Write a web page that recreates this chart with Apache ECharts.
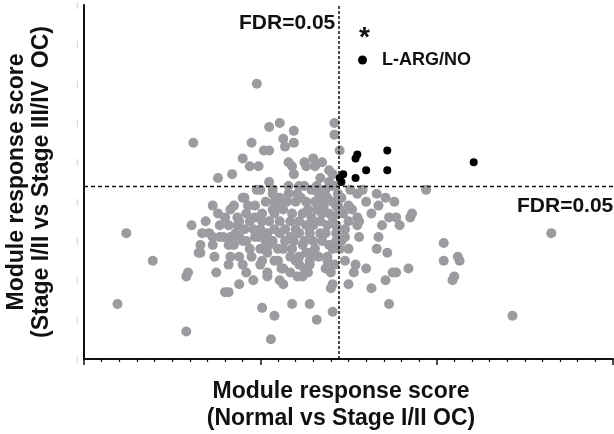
<!DOCTYPE html>
<html>
<head>
<meta charset="utf-8">
<script src="https://cdn.jsdelivr.net/npm/echarts@6/dist/echarts.min.js"></script>
<style>
  html, body { margin: 0; padding: 0; background: #fff; }
  #chart { width: 614px; height: 434px; }
</style>
</head>
<body>
<div id="chart"></div>
<script>
// axis ranges (arbitrary score units, ticks have no labels in the figure)
const xRange = [0, 300]
const yRange = [0, 90]
const yTicks = [0, 10, 20, 30, 40, 50, 60, 70, 80, 90]

// FDR = 0.05 cut-offs
const fdrX = 144.6
const fdrY = 44

// modules that pass both cut-offs (L-ARG/NO)
const sigPoints = [
  [147, 47], [145, 46], [146, 45], [154, 51], [155, 52],
  [160, 48], [172, 48], [172, 53], [154, 46], [221, 50]
]

// all other modules
const grayPoints = [
  [98, 70], [62, 55], [105, 59], [111, 60], [119, 58], [95, 55], [113, 56], [114, 54],
  [119, 55], [142, 60], [142, 57], [145, 53], [90, 51], [102, 53], [105, 53], [94, 49],
  [99, 49], [116, 50], [118, 49], [119, 47], [125, 50], [126, 49], [130, 51], [131, 49],
  [135, 50], [139, 48], [141, 47], [76, 46], [84, 47], [134, 46], [105, 45], [116, 44],
  [125, 44], [132, 44], [139, 45], [98, 43], [107, 43], [91, 41], [122, 44], [194, 43],
  [142, 44], [151, 43], [158, 43], [155, 42], [160, 40], [166, 42], [171, 41], [167, 39],
  [176, 40], [150, 39], [143, 39], [147, 37], [152, 38], [155, 36], [163, 37], [173, 36],
  [177, 36], [186, 37], [185, 36], [179, 34], [169, 34], [156, 35], [150, 35], [155, 34],
  [148, 33], [143, 34], [156, 31], [148, 31], [167, 31], [166, 28], [172, 27], [145, 28],
  [150, 28], [148, 25], [154, 24], [153, 22], [160, 23], [175, 22], [177, 22], [184, 23],
  [171, 20], [163, 18], [150, 19], [173, 14], [204, 29.5], [204, 25], [212, 26], [213, 25],
  [210, 21], [209, 20], [265, 32], [243, 11], [138, 25],
  [101, 13], [108, 11], [106, 5], [118, 14], [128, 14], [132, 10], [141, 12], [141, 19],
  [140, 18], [137, 23], [104, 22], [104, 21], [112, 23], [117, 22], [111, 20], [113, 19],
  [121, 21], [124, 21], [127, 22], [122, 24], [128, 24], [108, 25], [100, 24], [19, 14],
  [58, 7], [58, 21], [75, 22], [80, 17], [82, 17], [88, 19], [96, 20], [92, 22],
  [24, 32], [39, 25],
  [73, 39], [61, 34], [67, 32], [71, 32], [76, 37], [83, 38], [90, 41], [80, 36],
  [77, 34], [82, 34], [87, 36], [92, 37], [87, 34], [73, 31], [77, 31], [83, 31],
  [88, 31], [66, 29], [73, 29], [82, 29], [90, 30], [65, 27], [66, 27], [74, 26],
  [83, 26], [88, 26], [82, 24], [90, 24], [59, 22],
  [93, 39], [108, 40], [107, 38], [113, 38], [120, 40], [118, 37], [126, 40], [129, 36],
  [135, 40], [138, 41], [141, 40], [141, 36], [138, 34], [143, 34], [143, 30], [141, 28],
  [138, 26], [128, 25], [125, 23], [120, 25], [113, 23], [110, 25], [104, 27], [101, 25],
  [94, 28], [97, 31], [104, 32], [107, 30], [111, 32], [117, 31], [122, 32], [128, 32],
  [134, 32], [135, 30], [130, 30], [124, 29], [118, 28], [113, 28], [100, 33], [94, 35],
  [88, 35], [97, 36], [105, 35], [111, 35], [117, 35], [122, 35], [134, 35], [135, 37],
  [124, 37], [100, 43], [107, 42],
  [144, 42], [144, 39], [144, 37], [143, 32], [139, 29], [137, 43], [133, 42], [129, 43],
  [127, 38], [121, 42], [116, 42], [111, 41], [103, 40], [97, 39], [101, 35], [108, 37],
  [114, 33], [120, 33], [125, 30], [131, 28], [133, 26], [117, 26], [122, 26], [105, 29],
  [100, 28], [95, 26], [91, 33], [86, 32], [101, 37], [121, 25],
  [140, 44], [136, 39], [139, 37], [132, 38], [130, 34], [126, 34], [119, 30], [114, 30],
  [110, 28], [108, 33], [103, 30], [99, 31], [96, 33], [92, 30], [85, 29], [79, 31],
  [69, 35], [85, 39], [111, 39], [115, 40], [123, 41], [131, 40], [137, 32], [146, 30],
  [145, 38], [146, 41], [129, 27], [126, 27], [140, 22], [142, 24]
]

const FONT = '"Liberation Sans", Arial, sans-serif'

const chart = echarts.init(document.getElementById('chart'))

const option = {
  animation: false,
  backgroundColor: '#fff',
  grid: { left: 84, right: 1, top: 5, bottom: 75 },
  legend: {
    data: ['L-ARG/NO'],
    left: 353,
    top: 46,
    icon: 'circle',
    itemWidth: 9,
    itemHeight: 9,
    textStyle: { fontFamily: FONT, fontWeight: 'bold', fontSize: 18, color: '#111', padding: [0, 0, 0, 10] }
  },
  xAxis: {
    type: 'value',
    min: xRange[0],
    max: xRange[1],
    interval: 100,
    axisLine: { lineStyle: { color: '#111', width: 2 } },
    axisTick: { show: true, length: 6, lineStyle: { color: '#111', width: 1.5 } },
    minorTick: { show: true, splitNumber: 10, length: 3, lineStyle: { color: '#111', width: 1.2 } },
    axisLabel: { show: false },
    splitLine: { show: false }
  },
  yAxis: {
    type: 'value',
    min: yRange[0],
    max: yRange[1],
    interval: 10,
    axisLine: { lineStyle: { color: '#111', width: 2 } },
    axisTick: { show: false },
    axisLabel: {
      show: true,
      margin: 6,
      color: '#b0b0b0',
      fontSize: 7,
      fontFamily: FONT,
      formatter: (v) => (yTicks.includes(v) ? '|' : '')
    },
    splitLine: { show: false }
  },
  series: [
    {
      name: 'modules',
      type: 'scatter',
      symbolSize: 10,
      itemStyle: { color: '#9c9ca0', opacity: 1 },
      data: grayPoints,
      z: 2,
      markLine: {
        silent: true,
        symbol: 'none',
        label: { show: false },
        data: [
          { xAxis: fdrX, lineStyle: { type: [3, 2], color: '#111', width: 1.5 } },
          { yAxis: fdrY, lineStyle: { type: [4, 3], color: '#111', width: 1.3 } }
        ]
      }
    },
    {
      name: 'L-ARG/NO',
      type: 'scatter',
      symbolSize: 8,
      itemStyle: { color: '#000', opacity: 1 },
      data: sigPoints,
      z: 3
    }
  ],
  graphic: [
    {
      type: 'text', left: 239, top: 13,
      style: { text: 'FDR=0.05', font: 'bold 21px ' + FONT, fill: '#111' }
    },
    {
      type: 'text', left: 517, top: 196,
      style: { text: 'FDR=0.05', font: 'bold 21px ' + FONT, fill: '#111' }
    },
    {
      type: 'text', left: 359, top: 24,
      style: { text: '*', font: 'bold 28px ' + FONT, fill: '#111' }
    },
    {
      type: 'text', x: 341, y: 405,
      style: {
        text: 'Module response score\n(Normal vs Stage I/II OC)',
        font: 'bold 23px ' + FONT, fill: '#111',
        align: 'center', verticalAlign: 'middle', lineHeight: 27
      }
    },
    {
      type: 'text', x: 29, y: 182, rotation: Math.PI / 2,
      style: {
        text: 'Module response score\n(Stage I/II vs Stage III/IV  OC)',
        font: 'bold 23px ' + FONT, fill: '#111',
        align: 'center', verticalAlign: 'middle', lineHeight: 25
      }
    }
  ]
}

chart.setOption(option)
window.addEventListener('resize', () => chart.resize())
</script>
</body>
</html>
